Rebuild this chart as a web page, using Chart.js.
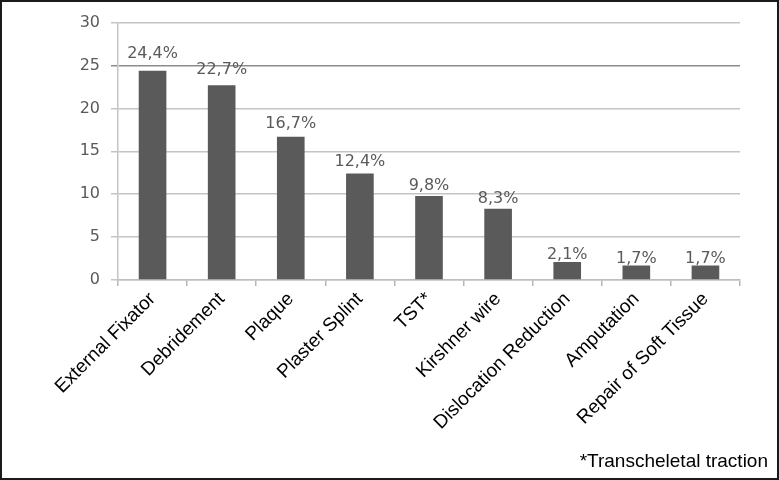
<!DOCTYPE html>
<html>
<head>
<meta charset="utf-8">
<script src="https://cdn.jsdelivr.net/npm/chart.js@4/dist/chart.umd.min.js"></script>
<style>
  html, body { margin: 0; padding: 0; background: #fff; }
  #frame { width: 779px; height: 480px; box-sizing: border-box; border: 2px solid #1a1a1a; background: #fff; }
  #wrap { width: 775px; height: 476px; position: relative; }
</style>
</head>
<body>
<div id="frame"><div id="wrap"><canvas id="c" width="775" height="476"></canvas></div></div>
<script>
const categories = ["External Fixator", "Debridement", "Plaque", "Plaster Splint", "TST*", "Kirshner wire", "Dislocation Reduction", "Amputation", "Repair of Soft Tissue"];
const values = [24.4, 22.7, 16.7, 12.4, 9.8, 8.3, 2.1, 1.7, 1.7];
const valueLabels = ["24,4%", "22,7%", "16,7%", "12,4%", "9,8%", "8,3%", "2,1%", "1,7%", "1,7%"];
const yTicks = [0, 5, 10, 15, 20, 25, 30];
const footnote = "*Transcheletal traction";

const labelPlugin = {
  id: 'valueLabels',
  afterDatasetsDraw(chart) {
    const ctx = chart.ctx;
    const meta = chart.getDatasetMeta(0);
    const y = chart.scales.y;
    ctx.save();
    ctx.font = '16px "DejaVu Sans"';
    ctx.fillStyle = '#5a5a5a';
    ctx.textAlign = 'center';
    ctx.textBaseline = 'alphabetic';
    meta.data.forEach((bar, i) => {
      const v = values[i];
      const top = y.getPixelForValue(v);
      ctx.fillText(valueLabels[i], bar.x, top - (2 + 0.42 * v));
    });
    ctx.restore();
  }
};

const footPlugin = {
  id: 'footnote',
  afterDraw(chart) {
    const ctx = chart.ctx;
    ctx.save();
    ctx.font = '19px "Liberation Sans"';
    ctx.fillStyle = '#000';
    ctx.textAlign = 'right';
    ctx.textBaseline = 'middle';
    ctx.fillText(footnote, chart.width - 9, chart.height - 16);
    ctx.restore();
  }
};

new Chart(document.getElementById('c'), {
  type: 'bar',
  data: {
    labels: categories,
    datasets: [{
      data: values,
      backgroundColor: '#5a5a5b',
      borderWidth: 0,
      categoryPercentage: 1,
      barPercentage: 0.4
    }]
  },
  options: {
    responsive: false,
    animation: false,
    devicePixelRatio: 1,
    layout: { padding: { top: 17, right: 37, bottom: 0, left: 0 } },
    plugins: { legend: { display: false }, tooltip: { enabled: false } },
    scales: {
      x: {
        grid: { display: true, drawOnChartArea: false, offset: true, tickLength: 6, color: '#b5b5b5', lineWidth: 1.5 },
        border: { display: true, color: '#bdbdbd', width: 1.5 },
        ticks: {
          color: '#000',
          font: { family: '"Liberation Sans"', size: 19 },
          minRotation: 45, maxRotation: 45, autoSkip: false, padding: 2
        },
        afterFit(scale) { scale.height = 198; }
      },
      y: {
        min: 0, max: 30,
        afterBuildTicks(scale) { scale.ticks = yTicks.map(v => ({ value: v })); },
        grid: {
          color: (c) => (c.tick && c.tick.value === 25) ? '#8c8c8c' : '#c4c4c4',
          lineWidth: 1.5, tickLength: 7
        },
        border: { display: true, color: '#c4c4c4', width: 1.5 },
        ticks: { color: '#5a5a5a', font: { family: '"DejaVu Sans"', size: 16 }, padding: 11 },
        afterFit(scale) { scale.width = 116; }
      }
    }
  },
  plugins: [labelPlugin, footPlugin]
});
</script>
</body>
</html>
